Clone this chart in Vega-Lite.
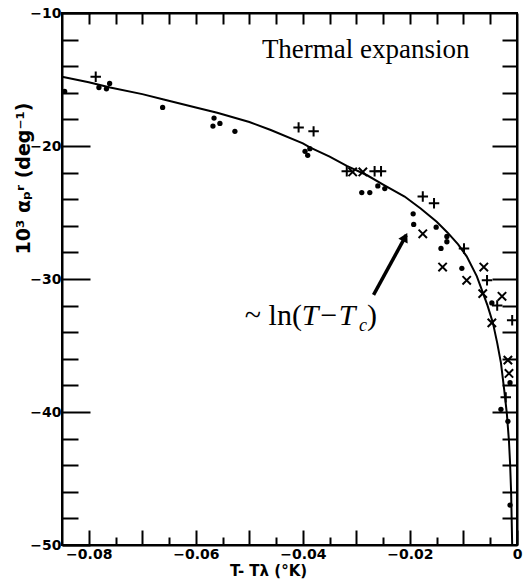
{
  "$schema": "https://vega.github.io/schema/vega-lite/v6.json",
  "width": 455,
  "height": 532,
  "autosize": "none",
  "padding": {"left": 62, "top": 13, "right": 6, "bottom": 34},
  "background": "white",
  "config": {
    "view": {"stroke": "black", "strokeWidth": 2},
    "axis": {
      "domainColor": "black", "domainWidth": 2, "tickColor": "black", "tickWidth": 2,
      "labelColor": "black", "titleColor": "black", "grid": false,
      "labelFont": "DejaVu Sans", "labelFontSize": 14, "labelFontWeight": "bold",
      "titleFont": "DejaVu Sans", "titleFontSize": 14, "titleFontWeight": "bold",
      "labelOverlap": false, "labelFlush": false
    }
  },
  "datasets": {
    "curve": [
      {"x": -0.085, "y": -14.8}, {"x": -0.08, "y": -15.2}, {"x": -0.076, "y": -15.6},
      {"x": -0.07, "y": -16.1}, {"x": -0.066, "y": -16.5}, {"x": -0.06, "y": -17.1},
      {"x": -0.056, "y": -17.5}, {"x": -0.05, "y": -18.2}, {"x": -0.046, "y": -18.8},
      {"x": -0.04, "y": -19.8}, {"x": -0.0387, "y": -20.1}, {"x": -0.035, "y": -20.8},
      {"x": -0.0318, "y": -21.5}, {"x": -0.028, "y": -22.2}, {"x": -0.025, "y": -22.9},
      {"x": -0.021, "y": -23.8}, {"x": -0.018, "y": -24.7}, {"x": -0.015, "y": -25.7},
      {"x": -0.013, "y": -26.5}, {"x": -0.011, "y": -27.4}, {"x": -0.0094, "y": -28.3},
      {"x": -0.0075, "y": -29.8}, {"x": -0.0064, "y": -31.0}, {"x": -0.0055, "y": -32.0},
      {"x": -0.0045, "y": -33.3}, {"x": -0.0037, "y": -34.8}, {"x": -0.003, "y": -36.3},
      {"x": -0.0024, "y": -38.3}, {"x": -0.0019, "y": -40.1}, {"x": -0.0015, "y": -42.2},
      {"x": -0.0013, "y": -43.8}, {"x": -0.0011, "y": -46.0}, {"x": -0.0009, "y": -50.0}
    ],
    "points": [
      {"kind": "dot", "x": -0.0845, "y": -15.9}, {"kind": "dot", "x": -0.0781, "y": -15.6},
      {"kind": "dot", "x": -0.0767, "y": -15.7}, {"kind": "dot", "x": -0.0761, "y": -15.3},
      {"kind": "dot", "x": -0.0662, "y": -17.1}, {"kind": "dot", "x": -0.0568, "y": -18.5},
      {"kind": "dot", "x": -0.0566, "y": -17.9}, {"kind": "dot", "x": -0.0555, "y": -18.3},
      {"kind": "dot", "x": -0.0527, "y": -18.9}, {"kind": "dot", "x": -0.0396, "y": -20.4},
      {"kind": "dot", "x": -0.0391, "y": -20.7}, {"kind": "dot", "x": -0.0387, "y": -20.2},
      {"kind": "dot", "x": -0.029, "y": -23.5}, {"kind": "dot", "x": -0.0275, "y": -23.5},
      {"kind": "dot", "x": -0.026, "y": -23.0}, {"kind": "dot", "x": -0.0247, "y": -23.2},
      {"kind": "dot", "x": -0.0194, "y": -25.1}, {"kind": "dot", "x": -0.0193, "y": -25.9},
      {"kind": "dot", "x": -0.0151, "y": -26.1}, {"kind": "dot", "x": -0.0131, "y": -26.8},
      {"kind": "dot", "x": -0.0131, "y": -27.2}, {"kind": "dot", "x": -0.0142, "y": -27.7},
      {"kind": "dot", "x": -0.0103, "y": -29.2}, {"kind": "dot", "x": -0.0047, "y": -31.8},
      {"kind": "dot", "x": -0.0013, "y": -37.8}, {"kind": "dot", "x": -0.003, "y": -39.8},
      {"kind": "dot", "x": -0.0017, "y": -40.7}, {"kind": "dot", "x": -0.0013, "y": -47.0},
      {"kind": "plus", "x": -0.0787, "y": -14.8}, {"kind": "plus", "x": -0.0408, "y": -18.6},
      {"kind": "plus", "x": -0.038, "y": -18.9}, {"kind": "plus", "x": -0.0318, "y": -21.9},
      {"kind": "plus", "x": -0.0266, "y": -21.9}, {"kind": "plus", "x": -0.0254, "y": -21.9},
      {"kind": "plus", "x": -0.0176, "y": -23.8}, {"kind": "plus", "x": -0.0155, "y": -24.3},
      {"kind": "plus", "x": -0.0099, "y": -27.7}, {"kind": "plus", "x": -0.0056, "y": -30.1},
      {"kind": "plus", "x": -0.0037, "y": -32.0}, {"kind": "plus", "x": -0.0009, "y": -33.1},
      {"kind": "plus", "x": -0.0021, "y": -38.9},
      {"kind": "cross", "x": -0.0307, "y": -21.95}, {"kind": "cross", "x": -0.0288, "y": -21.95},
      {"kind": "cross", "x": -0.0176, "y": -26.6}, {"kind": "cross", "x": -0.0139, "y": -29.1},
      {"kind": "cross", "x": -0.0094, "y": -30.1}, {"kind": "cross", "x": -0.0062, "y": -29.1},
      {"kind": "cross", "x": -0.0064, "y": -31.1}, {"kind": "cross", "x": -0.0028, "y": -31.3},
      {"kind": "cross", "x": -0.0047, "y": -33.3}, {"kind": "cross", "x": -0.0017, "y": -36.1},
      {"kind": "cross", "x": -0.0015, "y": -37.1}
    ],
    "arrow": [{"x": -0.0268, "y": -31.2, "x2": -0.0207, "y2": -26.7}],
    "arrowhead": [{"x": -0.0209, "y": -26.85}],
    "annot": [
      {"role": "title", "text": "Thermal expansion", "x": -0.04766, "y": -13.38},
      {"role": "pre", "text": "~ ln(", "x": -0.05084, "y": -33.46},
      {"role": "ital", "text": "T−T", "x": -0.04019, "y": -33.46},
      {"role": "sub", "text": "c", "x": -0.02953, "y": -33.9},
      {"role": "post", "text": ")", "x": -0.02804, "y": -33.46}
    ]
  },
  "layer": [
    {
      "data": {"name": "curve"},
      "mark": {"type": "line", "color": "black", "strokeWidth": 2},
      "encoding": {
        "x": {
          "field": "x", "type": "quantitative",
          "scale": {"domain": [-0.085, 0], "nice": false, "zero": false},
          "axis": {
            "orient": "bottom",
            "values": [-0.08, -0.075, -0.07, -0.065, -0.06, -0.055, -0.05, -0.045, -0.04, -0.035, -0.03, -0.025, -0.02, -0.015, -0.01, -0.005, 0],
            "tickSize": {"condition": {"test": "abs(round(datum.value*1000)) % 10 === 0", "value": -15}, "value": -8},
            "labelExpr": "abs(round(datum.value*1000)) % 20 === 0 ? (datum.value === 0 ? '0' : format(datum.value, '.2f')) : ''",
            "labelPadding": 17,
            "title": "T- Tλ (°K)",
            "titleFontSize": 15,
            "titleX": 206, "titleY": 25, "titleBaseline": "middle", "titleAnchor": null
          }
        },
        "y": {
          "field": "y", "type": "quantitative",
          "scale": {"domain": [-50, -10], "nice": false, "zero": false},
          "axis": {
            "orient": "left",
            "values": [-50, -48, -46, -44, -42, -40, -38, -36, -34, -32, -30, -28, -26, -24, -22, -20, -18, -16, -14, -12, -10],
            "tickSize": {"condition": {"test": "datum.value % 10 === 0", "value": -28}, "value": -16},
            "labelExpr": "datum.value % 10 === 0 ? datum.label : ''",
            "labelPadding": 29,
            "title": "10³ αₚʳ (deg⁻¹)",
            "titleFontSize": 19,
            "titleX": -39, "titleY": 165, "titleBaseline": "middle", "titleAlign": "center"
          }
        }
      }
    },
    {
      "data": {"name": "points"},
      "transform": [{"filter": "datum.kind === 'dot'"}],
      "mark": {"type": "point", "shape": "circle", "filled": true, "color": "black", "size": 28, "opacity": 1},
      "encoding": {
        "x": {
          "field": "x", "type": "quantitative",
          "scale": {"domain": [-0.085, 0], "nice": false, "zero": false},
          "axis": {
            "orient": "top",
            "values": [-0.08, -0.075, -0.07, -0.065, -0.06, -0.055, -0.05, -0.045, -0.04, -0.035, -0.03, -0.025, -0.02, -0.015, -0.01, -0.005],
            "tickSize": -11, "labels": false, "title": null
          }
        },
        "y": {
          "field": "y", "type": "quantitative",
          "scale": {"domain": [-50, -10], "nice": false, "zero": false},
          "axis": {
            "orient": "right",
            "values": [-48, -46, -44, -42, -40, -38, -36, -34, -32, -30, -28, -26, -24, -22, -20, -18, -16, -14, -12],
            "tickSize": {"condition": {"test": "datum.value % 10 === 0", "value": -25}, "value": -15},
            "labels": false, "title": null
          }
        }
      }
    },
    {
      "data": {"name": "points"},
      "transform": [{"filter": "datum.kind === 'plus'"}],
      "mark": {"type": "point", "shape": "M-1,0L1,0M0,-1L0,1", "filled": false, "stroke": "black", "strokeWidth": 2, "size": 110, "opacity": 1},
      "encoding": {
        "x": {"field": "x", "type": "quantitative", "scale": {"domain": [-0.085, 0], "nice": false, "zero": false}, "axis": null},
        "y": {"field": "y", "type": "quantitative", "scale": {"domain": [-50, -10], "nice": false, "zero": false}, "axis": null}
      }
    },
    {
      "data": {"name": "points"},
      "transform": [{"filter": "datum.kind === 'cross'"}],
      "mark": {"type": "point", "shape": "M-1,-1L1,1M-1,1L1,-1", "filled": false, "stroke": "black", "strokeWidth": 2, "size": 70, "opacity": 1},
      "encoding": {
        "x": {"field": "x", "type": "quantitative", "scale": {"domain": [-0.085, 0], "nice": false, "zero": false}, "axis": null},
        "y": {"field": "y", "type": "quantitative", "scale": {"domain": [-50, -10], "nice": false, "zero": false}, "axis": null}
      }
    },
    {
      "data": {"name": "arrow"},
      "mark": {"type": "rule", "color": "black", "strokeWidth": 3.5},
      "encoding": {
        "x": {"field": "x", "type": "quantitative", "scale": {"domain": [-0.085, 0], "nice": false, "zero": false}, "axis": null},
        "y": {"field": "y", "type": "quantitative", "scale": {"domain": [-50, -10], "nice": false, "zero": false}, "axis": null},
        "x2": {"field": "x2"},
        "y2": {"field": "y2"}
      }
    },
    {
      "data": {"name": "arrowhead"},
      "mark": {"type": "point", "shape": "triangle-up", "filled": true, "color": "black", "size": 110, "angle": 28, "opacity": 1},
      "encoding": {
        "x": {"field": "x", "type": "quantitative", "scale": {"domain": [-0.085, 0], "nice": false, "zero": false}, "axis": null},
        "y": {"field": "y", "type": "quantitative", "scale": {"domain": [-50, -10], "nice": false, "zero": false}, "axis": null}
      }
    },
    {
      "data": {"name": "annot"},
      "transform": [{"filter": "datum.role === 'title'"}],
      "mark": {"type": "text", "font": "Liberation Serif", "fontSize": 27, "align": "left", "baseline": "alphabetic", "color": "black"},
      "encoding": {
        "x": {"field": "x", "type": "quantitative", "scale": {"domain": [-0.085, 0], "nice": false, "zero": false}, "axis": null},
        "y": {"field": "y", "type": "quantitative", "scale": {"domain": [-50, -10], "nice": false, "zero": false}, "axis": null},
        "text": {"field": "text"}
      }
    },
    {
      "data": {"name": "annot"},
      "transform": [{"filter": "datum.role === 'pre' || datum.role === 'post'"}],
      "mark": {"type": "text", "font": "Liberation Serif", "fontSize": 30, "align": "left", "baseline": "alphabetic", "color": "black"},
      "encoding": {
        "x": {"field": "x", "type": "quantitative", "scale": {"domain": [-0.085, 0], "nice": false, "zero": false}, "axis": null},
        "y": {"field": "y", "type": "quantitative", "scale": {"domain": [-50, -10], "nice": false, "zero": false}, "axis": null},
        "text": {"field": "text"}
      }
    },
    {
      "data": {"name": "annot"},
      "transform": [{"filter": "datum.role === 'ital'"}],
      "mark": {"type": "text", "font": "Liberation Serif", "fontSize": 30, "fontStyle": "italic", "align": "left", "baseline": "alphabetic", "color": "black"},
      "encoding": {
        "x": {"field": "x", "type": "quantitative", "scale": {"domain": [-0.085, 0], "nice": false, "zero": false}, "axis": null},
        "y": {"field": "y", "type": "quantitative", "scale": {"domain": [-50, -10], "nice": false, "zero": false}, "axis": null},
        "text": {"field": "text"}
      }
    },
    {
      "data": {"name": "annot"},
      "transform": [{"filter": "datum.role === 'sub'"}],
      "mark": {"type": "text", "font": "Liberation Serif", "fontSize": 18, "fontStyle": "italic", "align": "left", "baseline": "alphabetic", "color": "black"},
      "encoding": {
        "x": {"field": "x", "type": "quantitative", "scale": {"domain": [-0.085, 0], "nice": false, "zero": false}, "axis": null},
        "y": {"field": "y", "type": "quantitative", "scale": {"domain": [-50, -10], "nice": false, "zero": false}, "axis": null},
        "text": {"field": "text"}
      }
    }
  ],
  "resolve": {"axis": {"x": "independent", "y": "independent"}}
}
